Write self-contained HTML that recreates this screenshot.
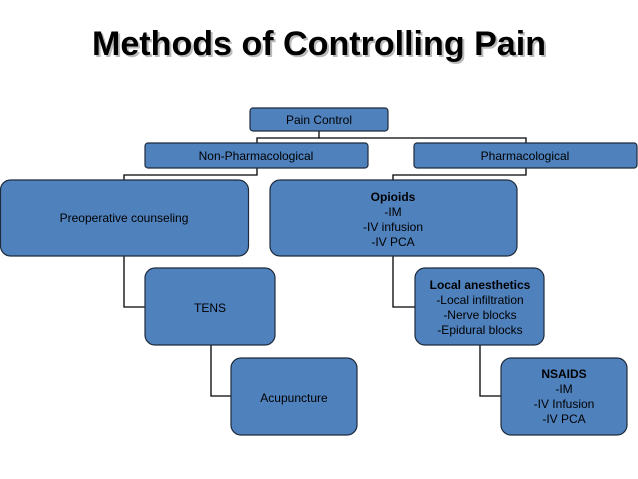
<!DOCTYPE html>
<html><head><meta charset="utf-8"><style>
html,body{margin:0;padding:0;background:#fff;}
svg{display:block;}
text{font-family:"Liberation Sans",sans-serif;}
</style></head><body>
<svg width="638" height="479" viewBox="0 0 638 479" xmlns="http://www.w3.org/2000/svg">
<text x="94" y="57" font-size="34" font-weight="bold" fill="#bbb" textLength="454" lengthAdjust="spacingAndGlyphs">Methods of Controlling Pain</text>
<text x="92" y="55" font-size="34" font-weight="bold" fill="#000" textLength="454" lengthAdjust="spacingAndGlyphs">Methods of Controlling Pain</text>
<g stroke="#000" stroke-width="1.3" fill="none">
<polyline points="319,131 319,138 257,138 257,143"/>
<polyline points="319,138 526,138 526,143"/>
<polyline points="257,168 257,175 124,175 124,180"/>
<polyline points="526,168 526,175 393,175 393,180"/>
<polyline points="124,256 124,307 145,307"/>
<polyline points="211,345 211,396 231,396"/>
<polyline points="393,256 393,307 415,307"/>
<polyline points="480,345 480,396 501,396"/>
</g>
<g fill="#4f81bd" stroke="#1e2b3c" stroke-width="1.2">
<rect x="250" y="108" width="138" height="23" rx="3"/>
<rect x="145" y="143" width="223" height="25" rx="3"/>
<rect x="414" y="143" width="223" height="25" rx="3"/>
<rect x="0.5" y="180" width="248" height="76" rx="10"/>
<rect x="270" y="180" width="247" height="76" rx="10"/>
<rect x="145" y="268" width="130" height="77" rx="10"/>
<rect x="415" y="268" width="129" height="77" rx="10"/>
<rect x="231" y="358" width="126" height="77" rx="10"/>
<rect x="501" y="358" width="126" height="77" rx="10"/>
</g>
<g font-size="12" fill="#000" text-anchor="middle">
<text x="319" y="124">Pain Control</text>
<text x="256" y="160">Non-Pharmacological</text>
<text x="525" y="160">Pharmacological</text>
<text x="124" y="222">Preoperative counseling</text>
<text x="393" y="201" font-weight="bold">Opioids</text>
<text x="393" y="216">-IM</text>
<text x="393" y="231">-IV infusion</text>
<text x="393" y="246">-IV PCA</text>
<text x="210" y="312">TENS</text>
<text x="480" y="289" font-weight="bold">Local anesthetics</text>
<text x="480" y="304">-Local infiltration</text>
<text x="480" y="319">-Nerve blocks</text>
<text x="480" y="334">-Epidural blocks</text>
<text x="294" y="402">Acupuncture</text>
<text x="564" y="378" font-weight="bold">NSAIDS</text>
<text x="564" y="393">-IM</text>
<text x="564" y="408">-IV Infusion</text>
<text x="564" y="423">-IV PCA</text>
</g>
</svg>
</body></html>
